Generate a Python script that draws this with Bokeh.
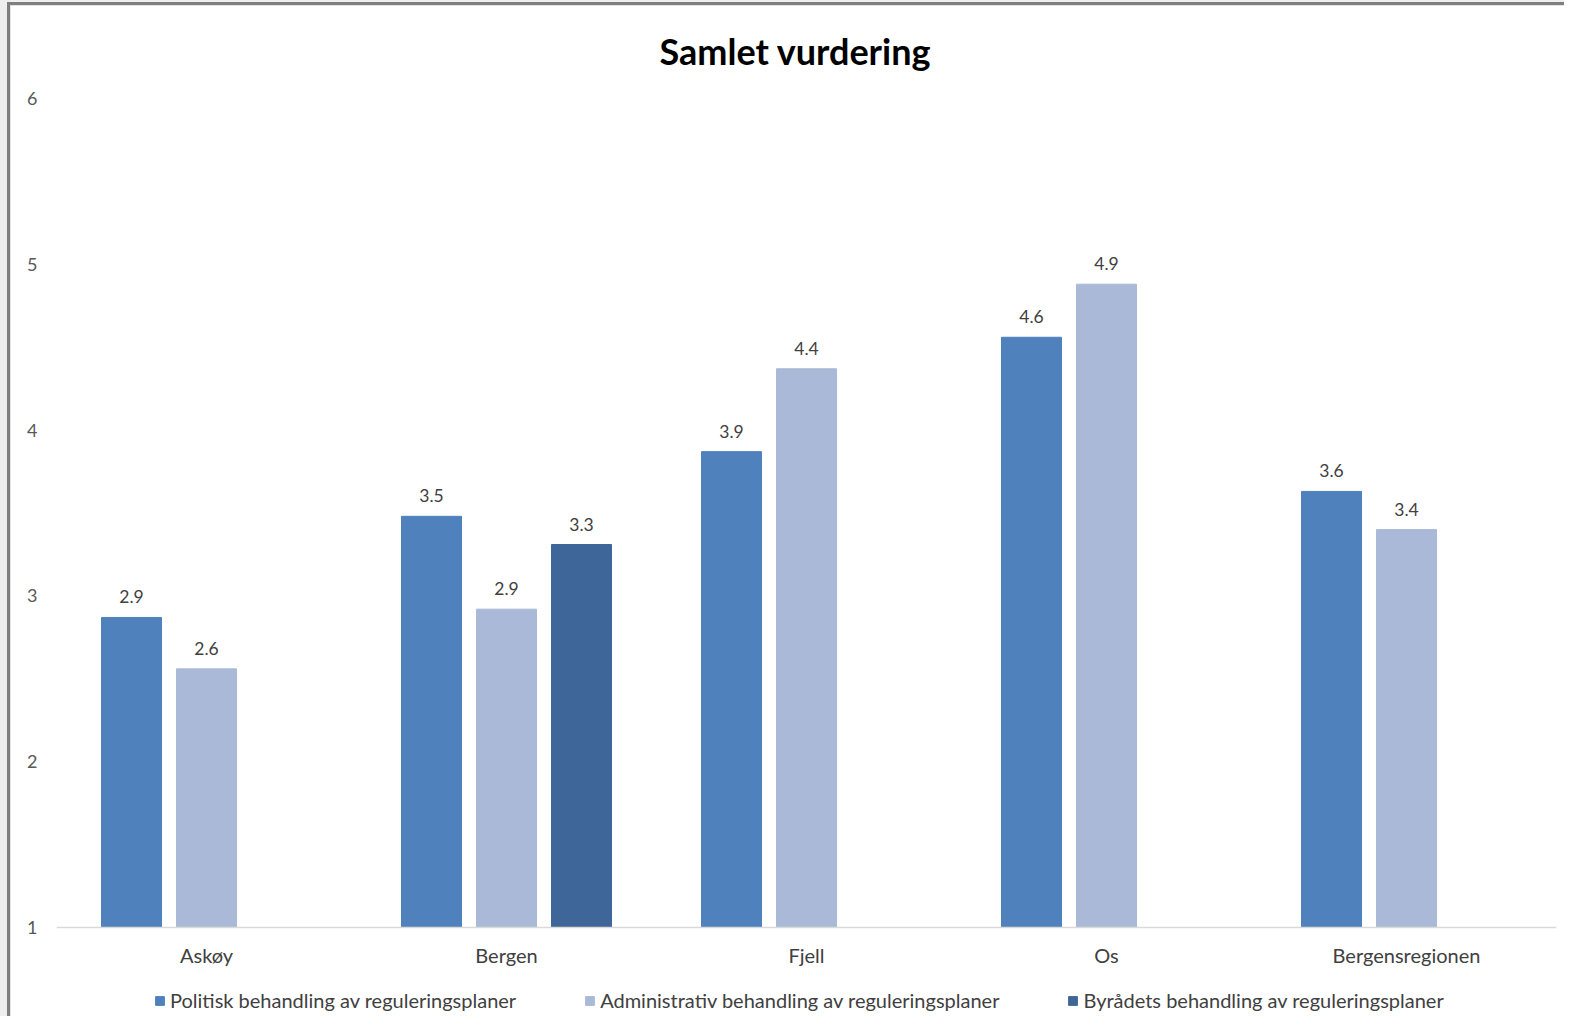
from bokeh.plotting import figure
from bokeh.models import ColumnDataSource, FactorRange, Legend, LegendItem, Range1d, InlineStyleSheet
from bokeh.transform import dodge
from bokeh.core.properties import value
from bokeh.embed import file_html
from bokeh.resources import INLINE
import math

categories = ["Askøy", "Bergen", "Fjell", "Os", "Bergensregionen"]
series_names = [
    "Politisk behandling av reguleringsplaner",
    "Administrativ behandling av reguleringsplaner",
    "Byrådets behandling av reguleringsplaner",
]
politisk = [2.87, 3.48, 3.87, 4.56, 3.63]
administrativ = [2.56, 2.92, 4.37, 4.88, 3.40]
byraadet = [float("nan"), 3.31, float("nan"), float("nan"), float("nan")]
y_ticks = [1, 2, 3, 4, 5, 6]

colors = ["#4F81BD", "#A9B9D7", "#3E6698"]
offsets = [-0.25, 0.0, 0.25]
FONT = "Lato"

# layout (pixels): value axis 1..6 spans 829 px; extra room below 1 holds labels + legend
FRAME_H = 918
AXIS_PX = 829
Y_MIN, Y_MAX = 1, 6
y_start = Y_MAX - (Y_MAX - Y_MIN) * FRAME_H / AXIS_PX

p = figure(
    x_range=FactorRange(factors=categories, range_padding=0),
    y_range=Range1d(y_start, Y_MAX),
    frame_width=1500, frame_height=FRAME_H,
    min_border_left=56, min_border_right=8,
    min_border_top=95, min_border_bottom=0,
    output_backend="svg", toolbar_location=None,
    title="Samlet vurdering",
)
p.stylesheets = [InlineStyleSheet(css=":host { box-shadow: inset 7px 2px 0 0 #efefef, inset 10px 5px 0 0 #7f7f7f, inset 11px 6px 0 0 #e3e3e3; }")]
p.title.align = "left"
p.title.offset = 603
p.title.text_font = FONT
p.title.text_font_size = "36px"
p.title.text_font_style = "bold"
p.title.text_color = "#000000"
p.title.standoff = 52

p.outline_line_color = None
p.xgrid.grid_line_color = None
p.ygrid.grid_line_color = None
p.background_fill_color = "white"
p.border_fill_color = None

p.yaxis.ticker = y_ticks
p.yaxis.axis_line_color = None
p.yaxis.major_tick_line_color = None
p.yaxis.minor_tick_line_color = None
p.yaxis.major_label_standoff = 13
p.yaxis.major_label_text_font = FONT
p.yaxis.major_label_text_font_size = "18px"
p.yaxis.major_label_text_color = "#595959"

p.xaxis.fixed_location = Y_MIN
p.xaxis.axis_line_color = "#D9D9D9"
p.xaxis.axis_line_width = 1.5
p.xaxis.major_tick_line_color = None
p.xaxis.minor_tick_line_color = None
p.xaxis.major_label_standoff = 9
p.xaxis.major_label_text_font = FONT
p.xaxis.major_label_text_font_size = "20px"
p.xaxis.major_label_text_color = "#404040"

items = []
for name, vals, col, off in zip(series_names, [politisk, administrativ, byraadet], colors, offsets):
    cats = [c for c, v in zip(categories, vals) if not math.isnan(v)]
    tops = [v for v in vals if not math.isnan(v)]
    src = ColumnDataSource(dict(cat=cats, top=tops, lab=[f"{v:.1f}" for v in tops]))
    r = p.vbar(x=dodge("cat", off, range=p.x_range), top="top", bottom=Y_MIN, width=0.2,
               source=src, fill_color=col, line_color=col)
    p.text(x=dodge("cat", off, range=p.x_range), y="top", text="lab", source=src,
           text_align="center", text_baseline="bottom", y_offset=-14,
           text_font=value(FONT), text_font_size="17.5px", text_color="#404040")
    items.append(LegendItem(label=name, renderers=[r]))

legend = Legend(items=items, orientation="horizontal", location=(98, 4),
                label_text_font=FONT, label_text_font_size="20px", label_text_color="#404040",
                label_height=22, glyph_width=11, glyph_height=11, label_standoff=5, spacing=68,
                border_line_color=None, background_fill_alpha=0, margin=0, padding=4)
p.add_layout(legend, "center")

open("out.html", "w").write(file_html(p, INLINE))
